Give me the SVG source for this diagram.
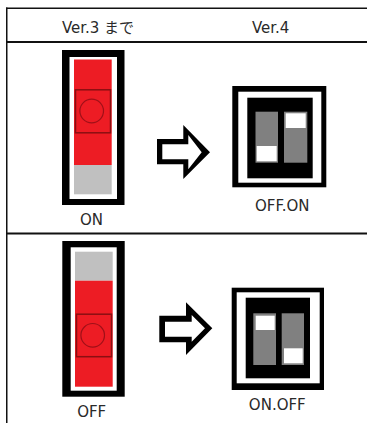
<svg xmlns="http://www.w3.org/2000/svg" width="367" height="423" viewBox="0 0 367 423">
<style>
text{font-family:"DejaVu Sans","Noto Sans CJK JP",sans-serif;font-size:15px;fill:#2a2a2a;text-anchor:middle}
.rule{fill:#111}
.red{fill:#ed1c24}
.grey{fill:#c0c0c0}
.slot{fill:#808080}
.knob{fill:#ed1c24;stroke:#8a0f12;stroke-width:1.500}
.dot{fill:none;stroke:#a01018;stroke-width:1.200}
.black{fill:#000}
.white{fill:#fff}
</style>
<rect width="367" height="423" fill="#fff"/>
<g id="table">
<rect class="rule" x="6" y="7.500" width="361" height="1.500"/>
<rect class="rule" x="6" y="41" width="361" height="2"/>
<rect class="rule" x="6" y="232.500" width="361" height="2"/>
<rect class="rule" x="6" y="7.500" width="1.500" height="415.500"/>
</g>
<g id="head3"><text x="98" y="33">Ver.3 まで</text></g>
<g id="head4"><text x="270.700" y="33">Ver.4</text></g>
<g id="sw1">
<rect class="black" x="62" y="50" width="62.500" height="155"/>
<rect class="white" x="69.500" y="57" width="47.500" height="142"/>
<rect class="red" x="74" y="59.500" width="37.700" height="105.500"/>
<rect class="grey" x="74" y="165" width="37.700" height="29.300"/>
<rect class="knob" x="75.500" y="89.800" width="35" height="43"/>
<circle class="dot" cx="91.700" cy="111" r="11.800"/>
<text x="91.500" y="225">ON</text>
</g>
<g id="arrow1"><path fill-rule="evenodd" class="black" d="M157 139H183.300V125L210 152.300L183.300 179V164.300H157ZM162.300 144.300V159.300H188.300V169.300L201.700 152.300L188.300 135V144.300Z"/></g>
<g id="dip1">
<rect class="black" x="232.300" y="86" width="94" height="101.300"/>
<rect class="white" x="238.300" y="91.700" width="83" height="91"/>
<rect class="black" x="247.300" y="97.700" width="65.400" height="80.600"/>
<rect class="slot" x="255.500" y="111.700" width="22.500" height="51"/>
<rect class="white" x="256.700" y="146" width="20" height="15.300"/>
<rect class="slot" x="284" y="111.700" width="23.300" height="51"/>
<rect class="white" x="285.700" y="113.300" width="20" height="14.700"/>
<text x="282.300" y="210.500">OFF.ON</text>
</g>
<g id="sw2">
<rect class="black" x="62.300" y="241" width="62.400" height="155.700"/>
<rect class="white" x="70.700" y="247.300" width="46" height="143.400"/>
<rect class="grey" x="75" y="251.700" width="37.700" height="29"/>
<rect class="red" x="75" y="280.700" width="37.700" height="106"/>
<rect class="knob" x="76.500" y="314.200" width="35" height="42.500"/>
<circle class="dot" cx="92.700" cy="335.300" r="11.800"/>
<text x="91.700" y="416.500">OFF</text>
</g>
<g id="arrow2"><path fill-rule="evenodd" class="black" d="M159.300 315.700H186V302.300L212.300 328.300L186 355V342.300H159.300ZM165 321.700V336.700H191.700V341.700L205 328.300L191.700 315V321.700Z"/></g>
<g id="dip2">
<rect class="black" x="231.700" y="287.700" width="92.300" height="102.300"/>
<rect class="white" x="236.700" y="292.300" width="83" height="91"/>
<rect class="black" x="245.700" y="297.700" width="64.300" height="80.600"/>
<rect class="slot" x="253.300" y="313.300" width="22.700" height="51.700"/>
<rect class="white" x="255.700" y="315.700" width="19" height="14.300"/>
<rect class="slot" x="281.700" y="313.300" width="22.300" height="51.700"/>
<rect class="white" x="284" y="348.300" width="18.700" height="15"/>
<text x="277.300" y="410">ON.OFF</text>
</g>
</svg>
